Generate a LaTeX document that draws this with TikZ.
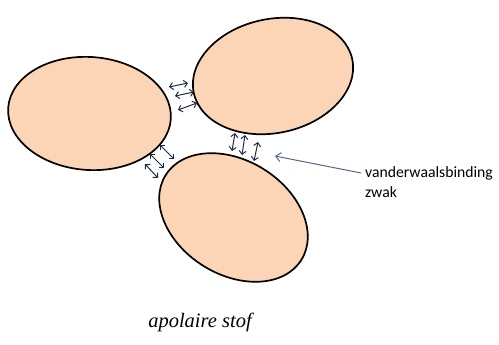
\documentclass[tikz,border=0pt]{standalone}
\usepackage{fontspec}
\setmainfont{Liberation Serif}
\newfontfamily\calfont{Carlito}
\usetikzlibrary{shapes.geometric,arrows.meta}
\definecolor{peach}{HTML}{FBD5B5}
\definecolor{navy}{HTML}{1F2A44}
\definecolor{greyblue}{HTML}{56688A}
\tikzset{
  blob/.style={ellipse, draw=black, line width=1.7pt, fill=peach, inner sep=0pt},
  vdw/.style={draw=navy, line width=1pt, {Straight Barb[length=3.5pt,width=7pt]}-{Straight Barb[length=3.5pt,width=7pt]}},
  pointer/.style={draw=greyblue, line width=1pt, -{Straight Barb[length=5pt,width=9pt]}},
}
\begin{document}
\begin{tikzpicture}[x=1pt,y=-1pt]
\useasboundingbox (0,0) rectangle (499,345);
\node[blob, minimum width=163pt, minimum height=113pt, rotate=-4] (left) at (89.5,113.5) {};
\node[blob, minimum width=162pt, minimum height=114pt, rotate=12] (top) at (273,76) {};
\node[blob, minimum width=160pt, minimum height=114pt, rotate=-32] (bottom) at (233.5,217.5) {};
% arrows between left and top
\coordinate (a1) at (169,87);  \coordinate (b1) at (188,83);
\coordinate (a2) at (175,96);  \coordinate (b2) at (194,92);
\coordinate (a3) at (178,110); \coordinate (b3) at (197,103);
\draw[vdw] (a1) -- (b1);
\draw[vdw] (a2) -- (b2);
\draw[vdw] (a3) -- (b3);
% arrows between left and bottom
\coordinate (c1) at (160,145); \coordinate (d1) at (174,159);
\coordinate (c2) at (150,154); \coordinate (d2) at (164,168);
\coordinate (c3) at (145,164); \coordinate (d3) at (158,178);
\draw[vdw] (c1) -- (d1);
\draw[vdw] (c2) -- (d2);
\draw[vdw] (c3) -- (d3);
% arrows between top and bottom
\coordinate (e1) at (235,133); \coordinate (f1) at (232,151);
\coordinate (e2) at (245,135); \coordinate (f2) at (242,155);
\coordinate (e3) at (258,142); \coordinate (f3) at (254,161);
\draw[vdw] (e1) -- (f1);
\draw[vdw] (e2) -- (f2);
\draw[vdw] (e3) -- (f3);
% label
\node[anchor=north west, inner sep=0pt, align=left, font=\calfont\fontsize{15.7}{20}\selectfont] (lbl) at (365,166) {vanderwaalsbinding\\zwak};
\coordinate (tip) at (275,156);
\draw[pointer] (lbl.west |- 0,173) ++(-4,0) coordinate (src) -- (tip);
\node[font=\itshape\fontsize{20.5}{24}\selectfont, inner sep=0pt] (title) at (200,322) {apolaire stof};
\end{tikzpicture}
\end{document}
